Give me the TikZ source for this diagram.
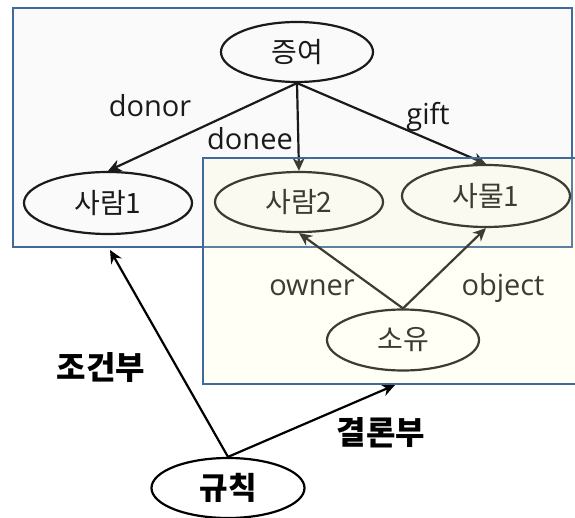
\documentclass[tikz,border=0pt]{standalone}
\usepackage{fontspec}
\setmainfont{Open Sans}
\newfontfamily\kr{Noto Sans CJK KR}
\usetikzlibrary{shapes.geometric,arrows.meta}
\definecolor{boxblue}{HTML}{41699C}
\definecolor{outerfill}{HTML}{FAFAFA}
\definecolor{innerfill}{HTML}{FFFFC0}
\definecolor{ink}{HTML}{1A1A1A}
\begin{document}
\begin{tikzpicture}[x=1pt,y=-1pt,
  ent/.style={ellipse, draw=ink, line width=2.2pt, inner sep=0pt,
    font=\kr\fontsize{28}{34}\selectfont, text=ink},
  edge/.style={draw=ink, line width=2.2pt, -{Stealth[length=13pt,width=12pt]}},
  lab/.style={font=\fontsize{29}{35}\selectfont, text=ink, anchor=base, inner sep=0pt},
  klab/.style={font=\kr\bfseries\fontsize{32}{38}\selectfont, text=black, inner sep=0pt},
  frame/.style={draw=boxblue, line width=2.4pt}]
\useasboundingbox (0,0) rectangle (575,518);
% outer box
\fill[white] (0,0) rectangle (575,518);
\filldraw[fill=outerfill, frame] (13,8) rectangle (572,247);
% entity nodes
\node[ent, minimum width=152pt, minimum height=60pt] (jy) at (297,52) {증여};
\node[ent, minimum width=168pt, minimum height=62pt] (p1) at (108,203) {사람1};
\node[ent, minimum width=168pt, minimum height=60pt] (p2) at (299,202) {사람2};
\node[ent, minimum width=168pt, minimum height=62pt] (o1) at (486,196) {사물1};
\node[ent, minimum width=152pt, minimum height=61pt] (sy) at (403,340) {소유};
\node[ent, minimum width=153pt, minimum height=60pt, font=\kr\bfseries\fontsize{31}{37}\selectfont, text=black, draw=black] (rule) at (228,488) {규칙};
% free ends of the rule arrows
\coordinate (condEnd) at (110,250);
\coordinate (conclEnd) at (395,385);
% edges
\draw[edge] (jy.south) -- (p1.north);
\draw[edge] (jy.south) -- (p2.north);
\draw[edge] (jy.south) -- (o1.north);
\draw[edge] (sy.north) -- (p2.south);
\draw[edge] (sy.north) -- (o1.south);
\draw[edge, draw=black] (rule.north) -- (condEnd);
\draw[edge, draw=black] (rule.north) -- (conclEnd);
% edge labels
\node[lab] (ldonor) at (150,117) {donor};
\node[lab] (ldonee) at (250,150) {donee};
\node[lab] (lgift) at (428,125) {gift};
\node[lab] (lowner) at (312,295) {owner};
\node[lab] (lobject) at (503,295) {object};
\node[klab] (lcond) at (101,368) {조건부};
\node[klab] (lconcl) at (381,433) {결론부};
% inner box (translucent, open on the right)
\fill[innerfill, fill opacity=0.15] (203,158) rectangle (577,384);
\draw[frame] (577,158) -- (203,158) -- (203,384) -- (577,384);
\end{tikzpicture}
\end{document}
